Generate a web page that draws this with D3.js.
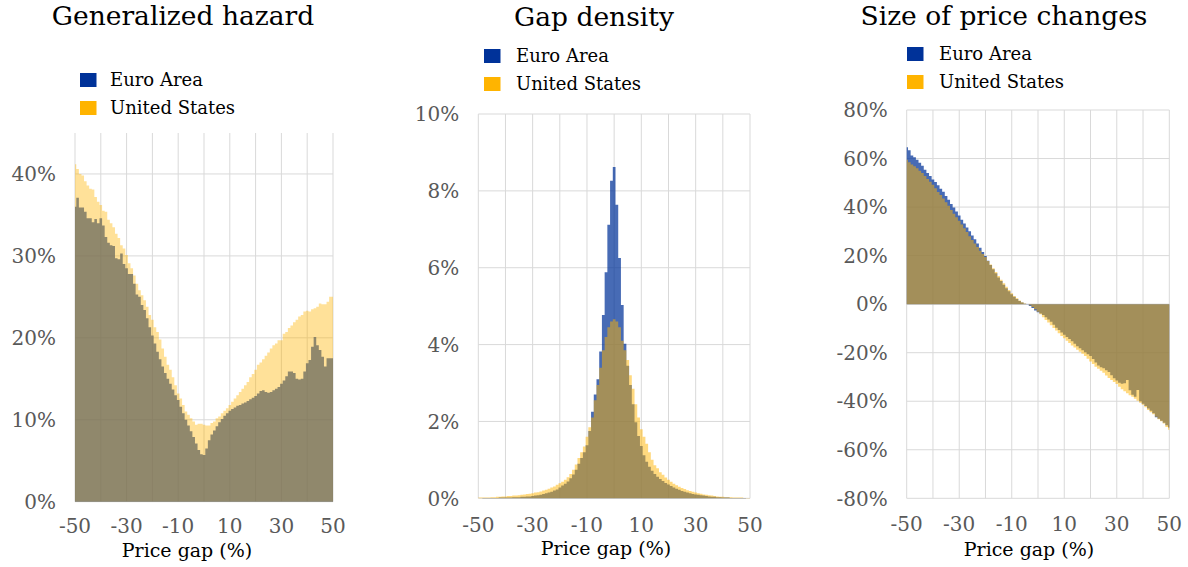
<!DOCTYPE html>
<html>
<head>
<meta charset="utf-8">
<script src="https://cdn.jsdelivr.net/npm/d3@7"></script>
<style>
  body { margin: 0; background: #fff; }
  svg text { font-family: "DejaVu Serif", serif; }
</style>
</head>
<body>
<svg id="chart" width="1188" height="567"></svg>
<script>
/**
 * Data (percent). One value per price gap, -50 .. 50
 */
const GAPS = d3.range(-50, 51);
const X_TICKS = [-50, -30, -10, 10, 30, 50];
const X_GRID = [-50, -40, -30, -20, -10, 0, 10, 20, 30, 40, 50];
const SERIES = ["Euro Area", "United States"];

const hazard_ea = [
  36.0, 37.1, 35.9, 35.9, 35.4, 34.6, 34.6, 34.1, 34.5, 34.0,
  34.6, 33.7, 32.3, 31.6, 31.3, 31.2, 29.7, 29.6, 30.3, 29.0,
  28.5, 27.8, 27.8, 26.6, 25.3, 25.0, 24.0, 23.4, 22.4, 21.3,
  20.3, 19.3, 18.3, 17.4, 16.5, 15.7, 15.0, 14.4, 13.7, 13.0,
  12.4, 11.6, 10.8, 10.0, 9.3, 8.6, 7.9, 7.1, 6.3, 5.8,
  5.7, 6.5, 7.5, 8.2, 8.7, 9.2, 9.7, 10.1, 10.5, 10.8,
  11.1, 11.3, 11.5, 11.7, 11.8, 12.0, 12.1, 12.3, 12.5, 12.7,
  12.9, 13.2, 13.5, 13.6, 13.4, 13.3, 13.4, 13.6, 13.8, 14.0,
  14.4, 14.8, 15.3, 15.9, 15.9, 15.7, 15.0, 14.9, 15.0, 15.9,
  16.9, 17.3, 18.9, 20.1, 19.1, 18.5, 17.7, 16.5, 17.5, 17.5, 17.5
];
const hazard_us = [
  41.2, 40.6, 40.0, 39.8, 39.1, 38.6, 38.2, 38.1, 37.2, 36.6,
  36.2, 35.5, 35.4, 34.4, 34.0, 33.5, 32.7, 32.2, 31.3, 30.9,
  30.1, 29.1, 28.5, 27.6, 26.6, 25.8, 25.2, 24.6, 23.8, 22.8,
  22.2, 21.3, 20.7, 19.8, 18.7, 17.7, 16.7, 16.1, 15.2, 14.2,
  13.2, 12.6, 11.8, 11.0, 10.6, 10.2, 9.8, 9.4, 9.5, 9.5,
  9.4, 9.3, 9.3, 9.6, 9.8, 10.2, 10.4, 10.8, 11.1, 11.4,
  11.8, 12.2, 12.6, 13.0, 13.4, 13.8, 14.2, 14.6, 15.2, 15.6,
  16.1, 16.7, 17.0, 17.4, 17.8, 18.2, 18.7, 19.1, 19.3, 19.7,
  19.7, 20.5, 20.7, 21.2, 21.5, 21.9, 22.2, 22.6, 22.8, 23.2,
  23.3, 23.2, 23.5, 23.6, 23.8, 24.2, 24.1, 24.1, 24.4, 25.0, 25.0
];

const density_ea = [
  0.0, 0.0, 0.01, 0.01, 0.01, 0.01, 0.01, 0.01, 0.02, 0.02,
  0.02, 0.02, 0.02, 0.03, 0.03, 0.03, 0.04, 0.04, 0.05, 0.05,
  0.06, 0.07, 0.08, 0.09, 0.11, 0.13, 0.15, 0.17, 0.20, 0.23,
  0.28, 0.33, 0.38, 0.44, 0.52, 0.62, 0.74, 0.90, 1.05, 1.20,
  1.38, 1.75, 2.25, 2.7, 3.1, 3.82, 4.77, 5.88, 7.12, 8.26,
  8.62, 7.64, 6.25, 5.03, 4.02, 3.45, 2.95, 2.45, 1.98, 1.62,
  1.36, 1.12, 0.95, 0.82, 0.72, 0.63, 0.56, 0.50, 0.45, 0.40,
  0.36, 0.32, 0.28, 0.25, 0.22, 0.19, 0.17, 0.15, 0.13, 0.11,
  0.10, 0.09, 0.08, 0.07, 0.06, 0.05, 0.04, 0.04, 0.03, 0.03,
  0.02, 0.02, 0.02, 0.01, 0.01, 0.01, 0.01, 0.01, 0.01, 0.0, 0.0
];
const density_us = [
  0.02, 0.02, 0.02, 0.02, 0.02, 0.03, 0.03, 0.04, 0.04, 0.05,
  0.05, 0.06, 0.06, 0.07, 0.07, 0.08, 0.09, 0.10, 0.11, 0.12,
  0.13, 0.15, 0.16, 0.18, 0.20, 0.22, 0.25, 0.28, 0.31, 0.35,
  0.39, 0.43, 0.48, 0.55, 0.63, 0.74, 0.88, 1.05, 1.20, 1.35,
  1.6, 1.85, 2.1, 2.55, 2.95, 3.4, 3.85, 4.2, 4.45, 4.6,
  4.66, 4.6, 4.45, 4.1, 3.85, 3.6, 3.2, 2.85, 2.45, 2.1,
  1.8, 1.6, 1.42, 1.2, 1.0, 0.86, 0.78, 0.68, 0.61, 0.54,
  0.48, 0.43, 0.38, 0.34, 0.30, 0.27, 0.24, 0.21, 0.19, 0.17,
  0.15, 0.13, 0.12, 0.10, 0.09, 0.08, 0.07, 0.06, 0.05, 0.04,
  0.04, 0.03, 0.03, 0.03, 0.02, 0.02, 0.02, 0.02, 0.01, 0.01, 0.01
];

const size_ea = [
  64.7, 63.4, 61.3, 60.5, 59.5, 58.3, 57.0, 55.4, 54.0, 52.8,
  51.4, 50.3, 49.0, 47.6, 46.3, 44.6, 43.0, 41.3, 39.8, 38.2,
  36.5, 34.8, 33.2, 31.6, 30.0, 28.3, 26.7, 25.0, 23.2, 21.5,
  19.8, 17.9, 16.1, 14.4, 12.7, 11.0, 9.5, 8.0, 6.6, 5.3,
  4.1, 3.0, 2.1, 1.3, 0.7, 0.2, -0.1, -0.8, -1.6, -2.6,
  -3.3, -3.9, -4.5, -5.4, -6.3, -7.3, -8.5, -9.7, -10.7, -11.7,
  -12.6, -13.5, -14.4, -15.3, -16.3, -17.3, -18.2, -19.0, -19.8, -20.6,
  -21.4, -22.6, -24.0, -25.3, -26.0, -26.4, -27.2, -28.0, -29.3, -30.5,
  -31.5, -32.4, -32.8, -32.6, -31.3, -35.5, -37.3, -38.2, -35.4, -40.0,
  -41.0, -42.0, -43.0, -43.9, -45.0, -46.6, -47.2, -48.0, -48.9, -49.9, -50.8
];
const size_us = [
  59.5, 58.5, 57.5, 56.8, 56.0, 55.0, 54.0, 52.8, 51.6, 50.4,
  49.2, 47.8, 46.2, 45.0, 43.5, 42.0, 40.5, 38.8, 37.3, 35.8,
  34.4, 32.8, 31.3, 29.7, 28.0, 26.4, 25.0, 23.5, 22.0, 20.7,
  19.4, 17.8, 16.3, 14.8, 13.2, 11.6, 10.1, 8.6, 7.2, 5.8,
  4.5, 3.4, 2.4, 1.5, 0.8, 0.3, 0.0, -0.5, -1.2, -2.1,
  -3.1, -4.2, -5.4, -6.5, -7.6, -8.7, -9.8, -10.9, -12.0, -13.1,
  -14.1, -15.1, -16.0, -17.0, -17.9, -18.8, -19.6, -20.4, -21.4, -22.5,
  -23.6, -24.7, -25.8, -26.6, -27.4, -28.3, -29.4, -30.4, -31.3, -32.1,
  -32.9, -34.0, -35.1, -35.9, -36.7, -37.5, -38.2, -39.0, -39.8, -40.6,
  -41.5, -42.5, -43.6, -44.5, -45.4, -46.4, -47.4, -48.3, -49.2, -50.6, -51.8
];

/**
 * Panel layout
 */
const EA_COLOR = "#003299";
const US_COLOR = "#FFB400";
const GRID = "#d9d9d9";
const LABEL = "#595959";

const panels = [
  {
    title: "Generalized hazard", titleX: 183, titleY: 25,
    ea: hazard_ea, us: hazard_us,
    xRange: [75, 333], yRange: [501.7, 133],
    yDomain: [0, 45], yTicks: [0, 10, 20, 30, 40],
    usOpacity: 0.4,
    legend: { x: 80, y: 73, textX: 110 },
    axisTitleX: 187, axisTitleY: 557, tickY: 533
  },
  {
    title: "Gap density", titleX: 594, titleY: 26,
    ea: density_ea, us: density_us,
    xRange: [478.3, 750], yRange: [498.3, 114],
    yDomain: [0, 10], yTicks: [0, 2, 4, 6, 8, 10],
    usOpacity: 0.5,
    legend: { x: 484, y: 49, textX: 516 },
    axisTitleX: 606, axisTitleY: 555, tickY: 532
  },
  {
    title: "Size of price changes", titleX: 1004, titleY: 25,
    ea: size_ea, us: size_us,
    xRange: [906.7, 1169.3], yRange: [498.3, 110],
    yDomain: [-80, 80], yTicks: [-80, -60, -40, -20, 0, 20, 40, 60, 80],
    usOpacity: 0.5,
    legend: { x: 907, y: 47, textX: 939 },
    axisTitleX: 1029, axisTitleY: 556, tickY: 531
  }
];

const svg = d3.select("#chart");

panels.forEach((p) => {
  const g = svg.append("g");
  const x = d3.scaleLinear().domain([-50, 50]).range(p.xRange);
  const y = d3.scaleLinear().domain(p.yDomain).range(p.yRange);

  // gridlines
  g.selectAll(".vgrid").data(X_GRID).enter().append("line")
    .attr("x1", (d) => x(d)).attr("x2", (d) => x(d))
    .attr("y1", p.yRange[1]).attr("y2", p.yRange[0])
    .attr("stroke", GRID).attr("stroke-width", 1);
  g.selectAll(".hgrid").data(p.yTicks).enter().append("line")
    .attr("x1", p.xRange[0]).attr("x2", p.xRange[1])
    .attr("y1", (d) => y(d)).attr("y2", (d) => y(d))
    .attr("stroke", GRID).attr("stroke-width", 1);

  // step bars, one per gap, centred on it
  const area = d3.area()
    .x((d) => x(d.gap))
    .y0(y(0))
    .y1((d) => y(d.v))
    .curve(d3.curveStep);

  g.append("path")
    .datum(GAPS.map((gap, i) => ({ gap, v: p.ea[i] })))
    .attr("d", area)
    .attr("fill", EA_COLOR).attr("fill-opacity", 0.72);
  g.append("path")
    .datum(GAPS.map((gap, i) => ({ gap, v: p.us[i] })))
    .attr("d", area)
    .attr("fill", US_COLOR).attr("fill-opacity", p.usOpacity);

  // y labels
  g.selectAll(".ylab").data(p.yTicks).enter().append("text")
    .attr("x", p.xRange[0] - 19)
    .attr("y", (d) => y(d))
    .attr("dy", "0.36em")
    .attr("text-anchor", "end")
    .attr("font-size", 20)
    .attr("fill", LABEL)
    .text((d) => d + "%");

  // x labels
  g.selectAll(".xlab").data(X_TICKS).enter().append("text")
    .attr("x", (d) => x(d))
    .attr("y", p.tickY)
    .attr("text-anchor", "middle")
    .attr("font-size", 20)
    .attr("fill", LABEL)
    .text((d) => d);

  g.append("text")
    .attr("x", p.axisTitleX).attr("y", p.axisTitleY)
    .attr("text-anchor", "middle")
    .attr("font-size", 19)
    .attr("fill", "#000")
    .text("Price gap (%)");

  g.append("text")
    .attr("x", p.titleX).attr("y", p.titleY)
    .attr("text-anchor", "middle")
    .attr("font-size", 26.5)
    .attr("fill", "#000")
    .text(p.title);

  // legend
  const leg = g.selectAll(".leg").data(SERIES).enter().append("g")
    .attr("transform", (d, i) => "translate(0," + (p.legend.y + i * 28) + ")");
  leg.append("rect")
    .attr("x", p.legend.x).attr("y", 0)
    .attr("width", 16.5).attr("height", 14)
    .attr("fill", (d, i) => (i === 0 ? EA_COLOR : US_COLOR));
  leg.append("text")
    .attr("x", p.legend.textX).attr("y", 12.5)
    .attr("font-size", 18)
    .attr("fill", "#000")
    .text((d) => d);
});
</script>
</body>
</html>
